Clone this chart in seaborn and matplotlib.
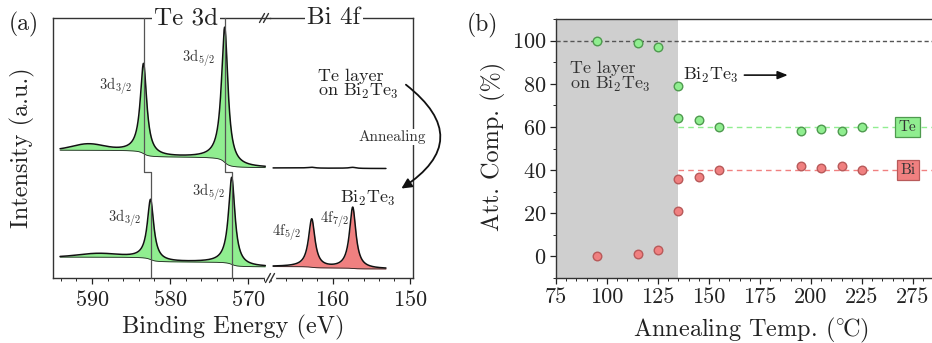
import numpy as np
import pandas as pd
import matplotlib
matplotlib.use("Agg")
import matplotlib.pyplot as plt
from matplotlib.ticker import MultipleLocator, FixedLocator
import seaborn as sns

# ---------------- data ----------------
# Panel (a): XPS peak parameters (binding energy eV, height a.u.)
TE_TOP_CENTERS = [583.4, 573.0]
TE_TOP_AMPS = [90.0, 135.0]
TE_TOP_STEPS = [7.0, 11.0]
TE_TOP_BASE = 110.0
TE_TOP_SAT = [590.5, 6.0, 2.0]        # centre, height, sigma

TE_BOT_CENTERS = [582.5, 572.1]
TE_BOT_AMPS = [60.0, 87.0]
TE_BOT_STEPS = [5.0, 5.0]
TE_BOT_BASE = 11.0
TE_BOT_SAT = [589.2, 3.5, 2.5]

BI_TOP_CENTERS = [162.7, 157.4]
BI_TOP_AMPS = [0.8, 1.0]
BI_TOP_STEPS = [0.3, 0.3]
BI_TOP_BASE = 109.5

BI_BOT_CENTERS = [162.7, 157.4]
BI_BOT_AMPS = [48.0, 61.0]
BI_BOT_STEPS = [1.5, 1.0]
BI_BOT_BASE = 9.0

TE_RANGE = [594.1, 567.8]
BI_RANGE = [167.7, 153.1]
JOG_Y = 106.0

# Panel (b)
TEMP = [95, 115, 125, 135, 135, 145, 155, 195, 205, 215, 225]
TE_COMP = [100, 99, 97, 79, 64, 63, 60, 58, 59, 58, 60]
BI_COMP = [0, 1, 3, 21, 36, 37, 40, 42, 41, 42, 40]
XTICKS_B = [75, 100, 125, 150, 175, 200, 225, 250]
XTICKLABELS_B = ["75", "100", "125", "150", "175", "200", "225", "275"]

GREEN = "#90EE90"
GREEN_E = "#4f9a4f"
RED = "#F08080"
RED_E = "#b85a5a"

# ---------------- style ----------------
sns.set_theme(style="ticks")
plt.rcParams["font.family"] = ["cmr10", "DejaVu Serif"]
plt.rcParams["mathtext.fontset"] = "cm"
plt.rcParams["axes.formatter.use_mathtext"] = True
plt.rcParams["axes.edgecolor"] = "#333333"
plt.rcParams["axes.linewidth"] = 1.0

W, H = 932, 343
fig = plt.figure(figsize=(W / 100, H / 100), dpi=100)


def fx(px):
    return px / W


def fy(py):
    return 1 - py / H


axL = fig.add_axes([fx(53), fy(278), (270 - 53) / W, (278 - 18) / H])
axR = fig.add_axes([fx(270), fy(278), (413 - 270) / W, (278 - 18) / H])
axB = fig.add_axes([fx(556), fy(278), 1 - fx(556) + 0.001, (278 - 19) / H])


def lor(E, c, w):
    return 1.0 / (1.0 + ((E - c) / w) ** 2)


def stp(E, c, w):
    return 0.5 + np.arctan((E - c) / w) / np.pi


def spectrum(E, centers, amps, steps, base, sat=None, hw=0.5):
    bg = base + sum(s * stp(E, c, hw) for c, s in zip(centers, steps))
    tot = bg + sum(a * lor(E, c, hw) for c, a in zip(centers, amps))
    if sat is not None:
        tot = tot + sat[1] * np.exp(-0.5 * ((E - sat[0]) / sat[2]) ** 2)
    return bg, tot


def draw(ax, E, bg, tot, color, fill=True):
    if fill:
        ax.fill_between(E, bg, tot, color=color, lw=0, zorder=2)
        sns.lineplot(x=E, y=bg, ax=ax, color="#222222", lw=0.6, sort=False,
                     estimator=None, zorder=3)
    sns.lineplot(x=E, y=tot, ax=ax, color="#111111", lw=1.1, sort=False,
                 estimator=None, zorder=4)


E_te = np.linspace(TE_RANGE[0], TE_RANGE[1], 1500)
E_bi = np.linspace(BI_RANGE[0], BI_RANGE[1], 900)

bg, tot = spectrum(E_te, TE_TOP_CENTERS, TE_TOP_AMPS, TE_TOP_STEPS, TE_TOP_BASE, TE_TOP_SAT)
draw(axL, E_te, bg, tot, GREEN)
bg, tot = spectrum(E_te, TE_BOT_CENTERS, TE_BOT_AMPS, TE_BOT_STEPS, TE_BOT_BASE, TE_BOT_SAT)
draw(axL, E_te, bg, tot, GREEN)
bg, tot = spectrum(E_bi, BI_TOP_CENTERS, BI_TOP_AMPS, BI_TOP_STEPS, BI_TOP_BASE)
draw(axR, E_bi, bg, tot, RED, fill=False)
bg, tot = spectrum(E_bi, BI_BOT_CENTERS, BI_BOT_AMPS, BI_BOT_STEPS, BI_BOT_BASE)
draw(axR, E_bi, bg, tot, RED)

# reference lines at peak positions with jog
for ct, cb in zip(TE_TOP_CENTERS, TE_BOT_CENTERS):
    axL.plot([ct, ct, cb, cb], [260, JOG_Y, JOG_Y, 0], color="#555555", lw=0.9,
             zorder=5, clip_on=False)

for ax in (axL, axR):
    ax.set_ylim(0, 260)
    ax.set_yticks([])
    ax.set_ylabel("")
    ax.set_xlabel("")
    ax.set_facecolor("none")
    ax.tick_params(axis="x", direction="out", length=4, width=0.9, labelsize=16,
                   pad=5, colors="#222222")
    ax.tick_params(axis="x", which="minor", direction="out", length=2, width=0.7)

axL.set_xlim(595.0, 567.2)
axR.set_xlim(168.1, 149.6)
axL.xaxis.set_major_locator(FixedLocator([590, 580, 570]))
axL.xaxis.set_minor_locator(MultipleLocator(2))
axR.xaxis.set_major_locator(FixedLocator([160, 150]))
axR.xaxis.set_minor_locator(MultipleLocator(2))
axL.spines["right"].set_visible(False)
axR.spines["left"].set_visible(False)

# labels in panel (a)
axL.text(587.0, 192, r"3d$_{3/2}$", fontsize=10.5, ha="center", va="center", color="#333333")
axL.text(576.4, 220, r"3d$_{5/2}$", fontsize=10.5, ha="center", va="center", color="#333333")
axL.text(585.8, 60, r"3d$_{3/2}$", fontsize=10.5, ha="center", va="center", color="#333333")
axL.text(575.1, 86, r"3d$_{5/2}$", fontsize=10.5, ha="center", va="center", color="#333333")
axR.text(165.9, 45, r"4f$_{5/2}$", fontsize=10.5, ha="center", va="center", color="#333333")
axR.text(159.8, 58, r"4f$_{7/2}$", fontsize=10.5, ha="center", va="center", color="#333333")
axR.text(161.9, 193, "Te layer\non Bi$_2$Te$_3$", fontsize=13, ha="left", va="center",
         linespacing=0.9, color="#222222")
axR.text(155.4, 80, r"Bi$_2$Te$_3$", fontsize=13, ha="center", va="center", color="#222222")
axR.text(152.3, 141, "Annealing", fontsize=11, ha="center", va="center", color="#333333",
         bbox=dict(facecolor="white", edgecolor="none", pad=1), zorder=6, clip_on=False)
axR.annotate("", xy=(151.4, 88), xytext=(150.8, 195),
             arrowprops=dict(arrowstyle="-|>,head_length=0.5,head_width=0.25", color="#111111",
                             lw=1.3, connectionstyle="arc3,rad=-0.72"),
             annotation_clip=False, zorder=7)

# header texts on the top spine
fig.text(fx(186), fy(18), "Te 3d", fontsize=18, ha="center", va="center", color="#222222",
         bbox=dict(facecolor="white", edgecolor="none", pad=1.5), zorder=10)
fig.text(fx(334), fy(18), "Bi 4f", fontsize=18, ha="center", va="center", color="#222222",
         bbox=dict(facecolor="white", edgecolor="none", pad=1.5), zorder=10)

# break marks
fig.add_artist(plt.Line2D([fx(266), fx(274)], [fy(278), fy(278)], color="white", lw=2.5, zorder=9))
for xc, yc in ((264, 18), (270, 278)):
    for dx in (-2, 2):
        fig.add_artist(plt.Line2D([fx(xc + dx - 2.5), fx(xc + dx + 2.5)],
                                  [fy(yc + 4.5), fy(yc - 4.5)], color="#333333", lw=1.0, zorder=11))

fig.text(fx(24), fy(24), "(a)", fontsize=17, ha="center", va="center", color="#222222")
fig.text(fx(22), fy(148), "Intensity (a.u.)", fontsize=17.5, rotation=90, ha="center",
         va="center", color="#222222")
fig.text(fx(233), fy(327), "Binding Energy (eV)", fontsize=17.5, ha="center", va="center",
         color="#222222")

# ---------------- panel (b) ----------------
axB.axvspan(75, 135, color="#cfcfcf", lw=0, zorder=0)
axB.axhline(100, color="#555555", lw=1.0, ls=(0, (3, 2)), zorder=1)
axB.plot([135, 262], [60, 60], color=GREEN, lw=1.0, ls=(0, (4, 3)), zorder=1)
axB.plot([135, 262], [40, 40], color=RED, lw=1.0, ls=(0, (4, 3)), zorder=1)

df_b = pd.DataFrame({"temp": TEMP, "Te": TE_COMP, "Bi": BI_COMP})
sns.scatterplot(data=df_b, x="temp", y="Te", ax=axB, color=GREEN, edgecolor=GREEN_E,
                s=38, linewidth=1.0, zorder=5)
sns.scatterplot(data=df_b, x="temp", y="Bi", ax=axB, color=RED, edgecolor=RED_E,
                s=38, linewidth=1.0, zorder=5)

axB.set_xlim(75, 259.8)
axB.set_ylim(-10, 110)
axB.xaxis.set_major_locator(FixedLocator(XTICKS_B))
axB.set_xticklabels(XTICKLABELS_B)
axB.xaxis.set_minor_locator(MultipleLocator(5))
axB.yaxis.set_major_locator(MultipleLocator(20))
axB.yaxis.set_minor_locator(MultipleLocator(10))
axB.set_yticks([0, 20, 40, 60, 80, 100])
axB.tick_params(axis="both", direction="out", length=4, width=0.9, labelsize=16, pad=3,
                colors="#222222")
axB.tick_params(axis="both", which="minor", direction="out", length=2, width=0.7)
axB.spines["right"].set_visible(False)
axB.set_xlabel("")
axB.set_ylabel("")

axB.text(82, 83, "Te layer\non Bi$_2$Te$_3$", fontsize=13, ha="left", va="center",
         linespacing=0.9, color="#333333")
axB.text(137.5, 84, r"Bi$_2$Te$_3$", fontsize=13, ha="left", va="center", color="#222222")
axB.annotate("", xy=(190, 84), xytext=(166, 84),
             arrowprops=dict(arrowstyle="-|>,head_length=0.5,head_width=0.2", color="#111111", lw=1.2))
axB.text(247.5, 60, "Te", fontsize=11, ha="center", va="center", color="#333333",
         bbox=dict(facecolor=GREEN, edgecolor=GREEN_E, pad=2.5, lw=0.9), zorder=6)
axB.text(247.5, 40, "Bi", fontsize=11, ha="center", va="center", color="#333333",
         bbox=dict(facecolor=RED, edgecolor=RED_E, pad=2.5, lw=0.9), zorder=6)

fig.text(fx(482), fy(25), "(b)", fontsize=17, ha="center", va="center", color="#222222")
fig.text(fx(493), fy(146), "Att. Comp. (%)", fontsize=17.5, rotation=90, ha="center",
         va="center", color="#222222")
fig.text(fx(751), fy(330), r"Annealing Temp. (${}^{\circ}\!$C)", fontsize=17.5, ha="center",
         va="center", color="#222222")

fig.savefig("out.png", dpi=100)
